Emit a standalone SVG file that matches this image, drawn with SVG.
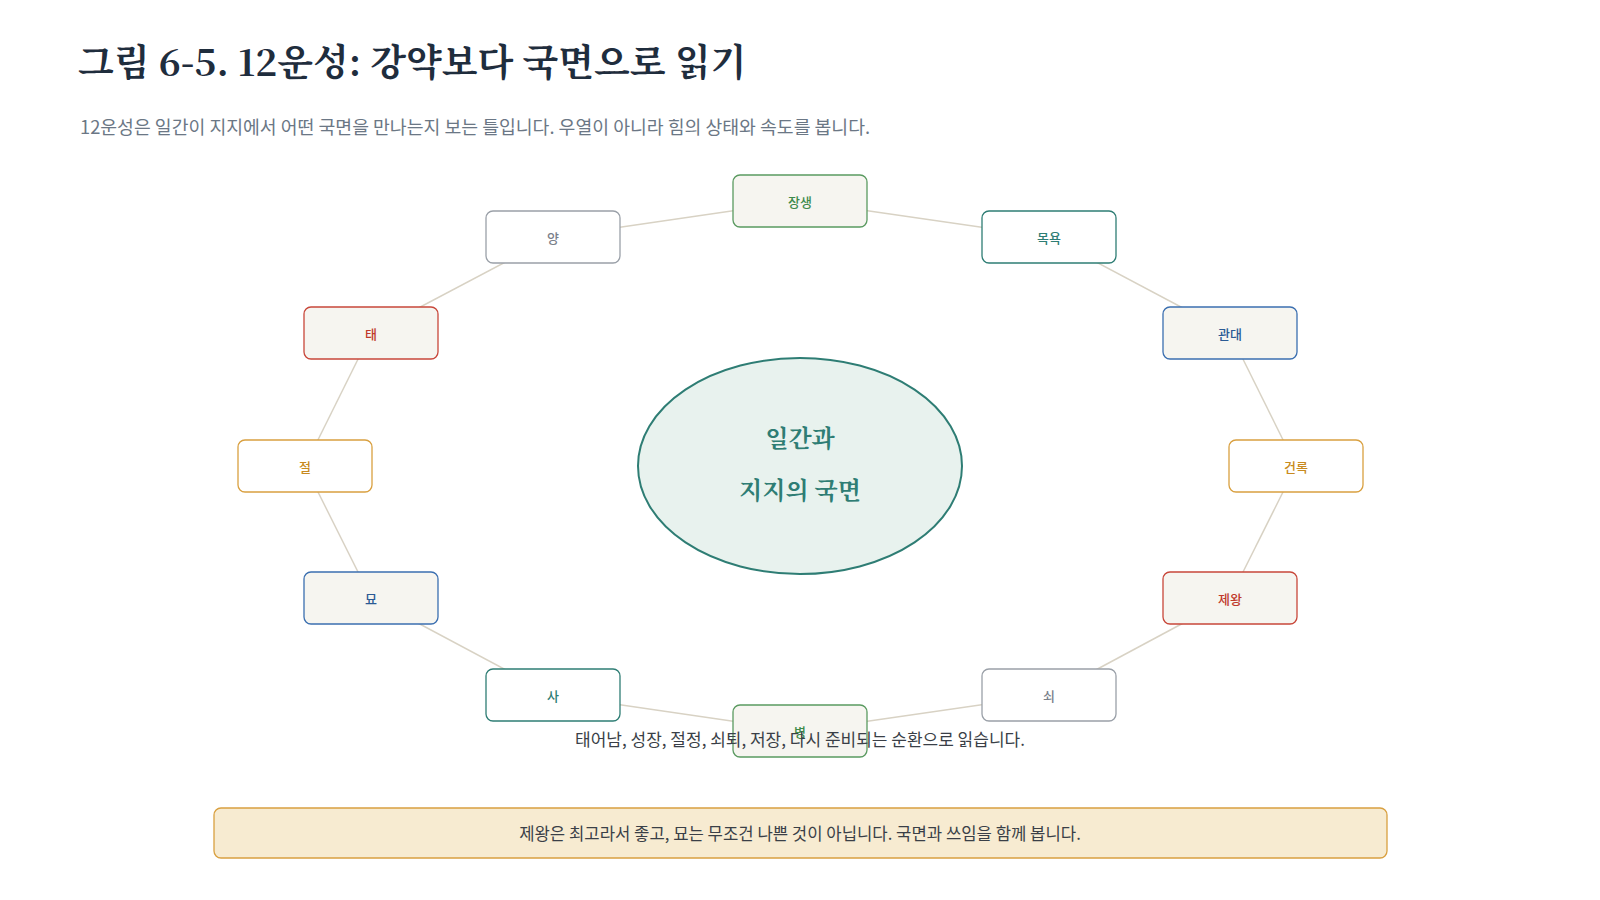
<svg xmlns="http://www.w3.org/2000/svg" width="1600" height="900" viewBox="0 0 1600 900">
<style>
text{font-family:"Noto Sans CJK KR","Noto Sans",sans-serif}
.t{font-family:"Noto Serif CJK KR","Noto Sans CJK KR",serif;font-weight:700;font-size:37px;fill:#1f2d3d}
.s{font-size:18.3px;fill:#6b7785}
.n rect{stroke-width:1.3}
.n text{font-size:13px;font-weight:500;text-anchor:middle;dominant-baseline:central}
.g rect{fill:#f6f5f0;stroke:#5a9a60}.g text{fill:#3d8a4a}
.te rect{fill:#fff;stroke:#2e7d74}.te text{fill:#2e7d74}
.b rect{fill:#f6f5f0;stroke:#3b6fb0}.b text{fill:#2b5a94}
.o rect{fill:#fff;stroke:#d9a040}.o text{fill:#c88a20}
.r rect{fill:#f6f5f0;stroke:#c8473a}.r text{fill:#c0392b}
.y rect{fill:#fff;stroke:#9aa0a8}.y text{fill:#7a808a}
#edges line{stroke:#d8d2c4;stroke-width:1.5}
</style>
<rect width="1600" height="900" fill="#fff"/>
<text class="t" x="78" y="76">그림 6-5. 12운성: 강약보다 국면으로 읽기</text>
<text class="s" x="80" y="134">12운성은 일간이 지지에서 어떤 국면을 만나는지 보는 틀입니다. 우열이 아니라 힘의 상태와 속도를 봅니다.</text>
<g id="edges">
<line x1="800" y1="201" x2="1049" y2="237"/><line x1="1049" y1="237" x2="1230" y2="333"/><line x1="1230" y1="333" x2="1296" y2="466"/><line x1="1296" y1="466" x2="1230" y2="598"/><line x1="1230" y1="598" x2="1049" y2="695"/><line x1="1049" y1="695" x2="800" y2="731"/><line x1="800" y1="731" x2="553" y2="695"/><line x1="553" y1="695" x2="371" y2="598"/><line x1="371" y1="598" x2="305" y2="466"/><line x1="305" y1="466" x2="371" y2="333"/><line x1="371" y1="333" x2="553" y2="237"/><line x1="553" y1="237" x2="800" y2="201"/>
</g>
<g id="center">
<ellipse cx="800" cy="466" rx="162" ry="108" fill="#e8f2ee" stroke="#2e7d74" stroke-width="2"/>
<text x="800" y="447" text-anchor="middle" font-size="24" font-weight="700" fill="#2e7d74" style="font-family:'Noto Serif CJK KR','Noto Sans CJK KR',serif">일간과</text>
<text x="800" y="499" text-anchor="middle" font-size="24" font-weight="700" fill="#2e7d74" style="font-family:'Noto Serif CJK KR','Noto Sans CJK KR',serif">지지의 국면</text>
</g>
<g id="n1" class="n g"><rect x="733" y="175" width="134" height="52" rx="7"/><text x="800" y="201">장생</text></g>
<g id="n2" class="n te"><rect x="982" y="211" width="134" height="52" rx="7"/><text x="1049" y="237">목욕</text></g>
<g id="n3" class="n b"><rect x="1163" y="307" width="134" height="52" rx="7"/><text x="1230" y="333">관대</text></g>
<g id="n4" class="n o"><rect x="1229" y="440" width="134" height="52" rx="7"/><text x="1296" y="466">건록</text></g>
<g id="n5" class="n r"><rect x="1163" y="572" width="134" height="52" rx="7"/><text x="1230" y="598">제왕</text></g>
<g id="n6" class="n y"><rect x="982" y="669" width="134" height="52" rx="7"/><text x="1049" y="695">쇠</text></g>
<g id="n7" class="n g"><rect x="733" y="705" width="134" height="52" rx="7"/><text x="800" y="731">병</text></g>
<g id="n8" class="n te"><rect x="486" y="669" width="134" height="52" rx="7"/><text x="553" y="695">사</text></g>
<g id="n9" class="n b"><rect x="304" y="572" width="134" height="52" rx="7"/><text x="371" y="598">묘</text></g>
<g id="n10" class="n o"><rect x="238" y="440" width="134" height="52" rx="7"/><text x="305" y="466">절</text></g>
<g id="n11" class="n r"><rect x="304" y="307" width="134" height="52" rx="7"/><text x="371" y="333">태</text></g>
<g id="n12" class="n y"><rect x="486" y="211" width="134" height="52" rx="7"/><text x="553" y="237">양</text></g>
<text x="800" y="746" text-anchor="middle" font-size="17" fill="#3a3f47">태어남, 성장, 절정, 쇠퇴, 저장, 다시 준비되는 순환으로 읽습니다.</text>
<g id="note">
<rect x="214" y="808" width="1173" height="50" rx="7" fill="#f7ebd1" stroke="#d9a040" stroke-width="1.3"/>
<text x="800" y="833" text-anchor="middle" dominant-baseline="central" font-size="16.7" fill="#3a3f47">제왕은 최고라서 좋고, 묘는 무조건 나쁜 것이 아닙니다. 국면과 쓰임을 함께 봅니다.</text>
</g>
</svg>
